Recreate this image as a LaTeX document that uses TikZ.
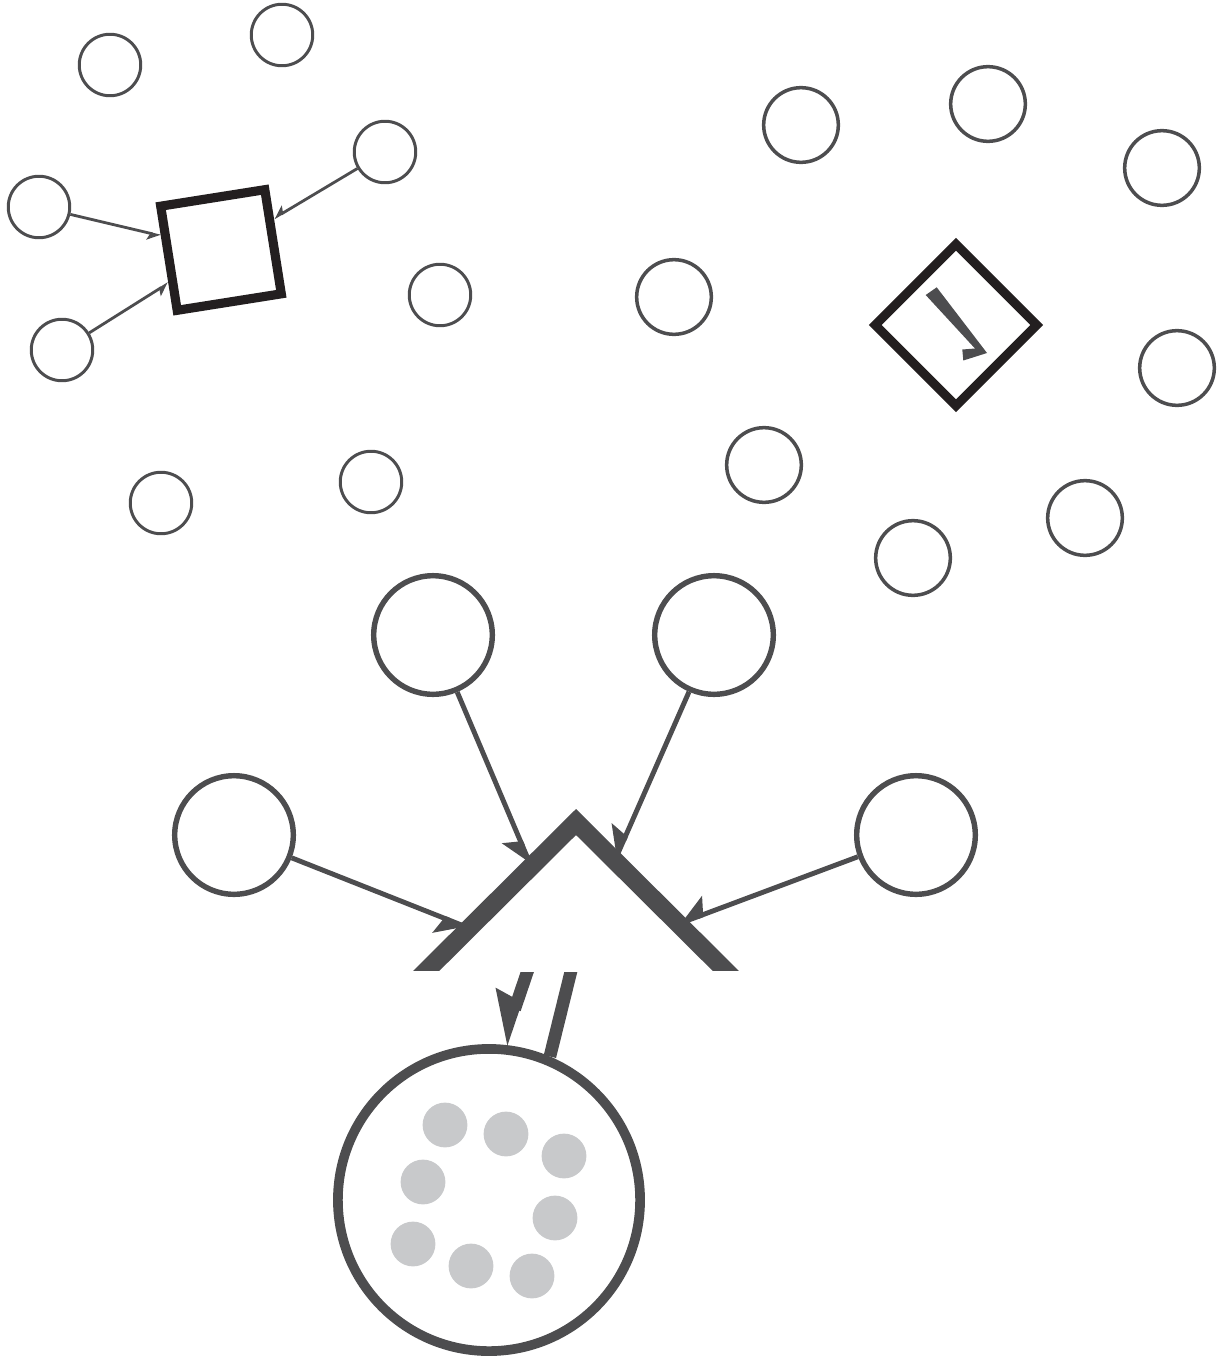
\documentclass[tikz,border=0pt]{standalone}
\usetikzlibrary{arrows.meta}
\definecolor{ink}{HTML}{4D4D4F}
\definecolor{blk}{HTML}{231F20}
\definecolor{dotgray}{HTML}{C8C9CB}

\begin{document}
\begin{tikzpicture}[x=0.02cm,y=-0.02cm,
    small/.style={circle,draw=ink,line width=1.7pt,minimum size=35pt,inner sep=0pt},
    medium/.style={circle,draw=ink,line width=2pt,minimum size=42.5pt,inner sep=0pt},
    large/.style={circle,draw=ink,line width=3.1pt,minimum size=67.5pt,inner sep=0pt},
    basin/.style={circle,draw=ink,line width=5.5pt,minimum size=172pt,inner sep=0pt},
    pebble/.style={circle,fill=dotgray,minimum size=25.5pt,inner sep=0pt},
    box/.style={rectangle,draw=blk,line width=5.2pt,minimum size=60pt,inner sep=0pt},
    barb/.style={draw=ink,line width=1.6pt,-{Stealth[right,length=6.5pt,width=8pt,inset=1.5pt]}},
    pull/.style={draw=ink,line width=2.8pt,-{Stealth[right,length=16pt,width=20pt,inset=3pt]}},
    feed/.style={draw=ink,line width=7.2pt}]
      \useasboundingbox (0,0) rectangle (1219,1369);

      % scattered circles
      \draw (110,65) node[small](s1) {};
      \draw (282,35) node[small](s2) {};
      \draw (385,152) node[small](s3) {};
      \draw (39,207) node[small](s4) {};
      \draw (62,350) node[small](s5) {};
      \draw (440,295) node[small](s6) {};
      \draw (161,503) node[small](s7) {};
      \draw (371,482) node[small](s8) {};

      \draw (801,125) node[medium](m1) {};
      \draw (988,104) node[medium](m2) {};
      \draw (1162,168) node[medium](m3) {};
      \draw (674,297) node[medium](m4) {};
      \draw (1177,368) node[medium](m5) {};
      \draw (764,465) node[medium](m6) {};
      \draw (1085,518) node[medium](m7) {};
      \draw (913,558) node[medium](m8) {};

      % square and diamond
      \draw (221,250) node[box,rotate=9](sq) {};
      \draw (956,325) node[box,minimum size=65pt,rotate=45](dm) {};
      \fill[ink] (925.7,295) -- (936.7,287.3) -- (987,353) -- (963.3,360.5)
        -- (962.3,349.5) -- (975,348.5) -- cycle;

      \draw (s4) edge[barb] (sq);
      \draw (s5) edge[barb] (sq);
      \draw (s3) edge[barb] (sq);

      % roof with four inputs
      \draw (433,635) node[large](l1) {};
      \draw (714,635) node[large](l2) {};
      \draw (234,835) node[large](l3) {};
      \draw (916,835) node[large](l4) {};

      \coordinate (r1) at (531,866);
      \coordinate (r2) at (615,860);
      \coordinate (r3) at (469,928);
      \coordinate (r4) at (678,924);

      \draw (l1) edge[pull] (r1);
      \draw (l2) edge[pull] (r2);
      \draw (l3) edge[pull] (r3);
      \draw (l4) edge[pull] (r4);

      \coordinate (eaveL) at (410,987);
      \coordinate (ridge) at (576,822);
      \coordinate (eaveR) at (742,987);
      \begin{scope}
        \clip (0,0) rectangle (1219,970);
        \draw[ink,line width=10.5pt,miter limit=4] (eaveL) -- (ridge) -- (eaveR);
      \end{scope}

      % pot with pebbles
      \draw (489,1200) node[basin](pot) {};
      \foreach \px/\py [count=\i] in {445/1125,506/1134,564/1156,423/1182,555/1218,413/1244,471/1266,532/1276}
        \draw (\px,\py) node[pebble](p\i) {};

      \coordinate (d1) at (533,955);
      \coordinate (d2) at (575,955);
      \begin{scope}
        \clip (0,972) rectangle (1219,1369);
        \draw (d1) edge[feed,-{Stealth[right,length=24pt,width=27pt,inset=2pt]}] (pot.85);
        \draw (d2) edge[feed] (pot.67);
      \end{scope}
    \end{tikzpicture}
\end{document}
